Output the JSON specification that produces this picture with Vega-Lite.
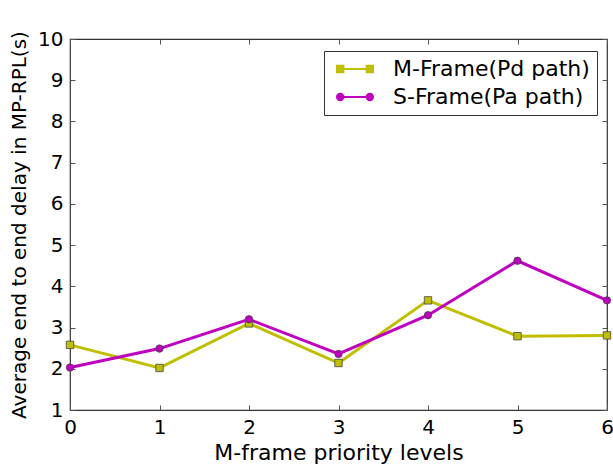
{
  "$schema": "https://vega.github.io/schema/vega-lite/v6.json",
  "width": 537,
  "height": 371,
  "autosize": "none",
  "padding": {"left": 70, "top": 39, "right": 6, "bottom": 60},
  "background": "white",
  "config": {
    "font": "DejaVu Sans",
    "view": {"stroke": "#333333", "strokeWidth": 1.2},
    "axis": {
      "grid": false,
      "domain": false,
      "tickColor": "#555555",
      "tickSize": -5,
      "tickWidth": 1,
      "labelFont": "DejaVu Sans",
      "labelFontSize": 20,
      "labelColor": "black",
      "titleFont": "DejaVu Sans",
      "titleFontSize": 20,
      "titleFontWeight": "normal",
      "titleColor": "black"
    }
  },
  "data": {
    "values": [
      {"level": 0, "delay": 2.58, "series": "M-Frame(Pd path)"},
      {"level": 1, "delay": 2.02, "series": "M-Frame(Pd path)"},
      {"level": 2, "delay": 3.1, "series": "M-Frame(Pd path)"},
      {"level": 3, "delay": 2.14, "series": "M-Frame(Pd path)"},
      {"level": 4, "delay": 3.66, "series": "M-Frame(Pd path)"},
      {"level": 5, "delay": 2.79, "series": "M-Frame(Pd path)"},
      {"level": 6, "delay": 2.81, "series": "M-Frame(Pd path)"},
      {"level": 0, "delay": 2.03, "series": "S-Frame(Pa path)"},
      {"level": 1, "delay": 2.49, "series": "S-Frame(Pa path)"},
      {"level": 2, "delay": 3.2, "series": "S-Frame(Pa path)"},
      {"level": 3, "delay": 2.36, "series": "S-Frame(Pa path)"},
      {"level": 4, "delay": 3.3, "series": "S-Frame(Pa path)"},
      {"level": 5, "delay": 4.62, "series": "S-Frame(Pa path)"},
      {"level": 6, "delay": 3.66, "series": "S-Frame(Pa path)"}
    ]
  },
  "layer": [
    {
      "mark": {"type": "line", "strokeWidth": 3, "clip": false},
      "encoding": {
        "x": {
          "field": "level",
          "type": "quantitative",
          "scale": {"domain": [0, 6], "nice": false, "zero": false},
          "axis": {"orient": "bottom", "values": [0, 1, 2, 3, 4, 5, 6], "format": "d", "title": "M-frame priority levels", "titleFontSize": 22, "labelPadding": 12, "titlePadding": 5, "labelFlush": false}
        },
        "y": {
          "field": "delay",
          "type": "quantitative",
          "scale": {"domain": [1, 10], "nice": false, "zero": false},
          "axis": {"orient": "left", "values": [1, 2, 3, 4, 5, 6, 7, 8, 9, 10], "format": "d", "title": "Average end to end delay in MP-RPL(s)", "labelPadding": 12, "titlePadding": 8, "labelFlush": false}
        },
        "color": {
          "field": "series",
          "type": "nominal",
          "scale": {"domain": ["M-Frame(Pd path)", "S-Frame(Pa path)"], "range": ["#bfbf00", "#bf00bf"]},
          "legend": {
            "title": null,
            "orient": "none",
            "legendX": 254,
            "legendY": 12,
            "direction": "vertical",
            "strokeColor": "#333333",
            "fillColor": "white",
            "padding": 7,
            "labelFont": "DejaVu Sans",
            "labelFontSize": 22,
            "labelColor": "black",
            "labelLimit": 400,
            "labelOffset": 27,
            "rowPadding": 6,
            "symbolSize": 400,
            "symbolOffset": 13,
            "symbolStrokeWidth": 2,
            "encode": {
              "symbols": {
                "update": {
                  "shape": {"signal": "datum.value === 'M-Frame(Pd path)' ? 'M-1.8,-0.32H-1.16V0.32H-1.8Z M1.16,-0.32H1.8V0.32H1.16Z M-1.16,0H1.16' : 'M-1.8,0A0.32,0.32 0 1,1 -1.16,0A0.32,0.32 0 1,1 -1.8,0Z M1.16,0A0.32,0.32 0 1,1 1.8,0A0.32,0.32 0 1,1 1.16,0Z M-1.16,0H1.16'"},
                  "fill": {"signal": "datum.value === 'M-Frame(Pd path)' ? '#bfbf00' : '#bf00bf'"},
                  "stroke": {"signal": "datum.value === 'M-Frame(Pd path)' ? '#bfbf00' : '#bf00bf'"},
                  "strokeWidth": {"value": 2},
                  "opacity": {"value": 1}
                }
              }
            }
          }
        }
      }
    },
    {
      "transform": [{"filter": "datum.series === 'M-Frame(Pd path)'"}],
      "mark": {"type": "point", "shape": "square", "filled": true, "size": 55, "color": "#bfbf00", "stroke": "#444444", "strokeWidth": 0.8, "opacity": 1, "clip": false},
      "encoding": {
        "x": {"field": "level", "type": "quantitative", "axis": null},
        "y": {"field": "delay", "type": "quantitative", "axis": null}
      }
    },
    {
      "transform": [{"filter": "datum.series === 'S-Frame(Pa path)'"}],
      "mark": {"type": "point", "shape": "circle", "filled": true, "size": 55, "color": "#bf00bf", "stroke": "#444444", "strokeWidth": 0.8, "opacity": 1, "clip": false},
      "encoding": {
        "x": {"field": "level", "type": "quantitative", "axis": null},
        "y": {"field": "delay", "type": "quantitative", "axis": null}
      }
    },
    {
      "mark": {"type": "line", "opacity": 0},
      "encoding": {
        "x": {"field": "level", "type": "quantitative", "axis": {"orient": "top", "values": [0, 1, 2, 3, 4, 5, 6], "labels": false, "title": null}},
        "y": {"field": "delay", "type": "quantitative", "axis": {"orient": "right", "values": [1, 2, 3, 4, 5, 6, 7, 8, 9, 10], "labels": false, "title": null}},
        "detail": {"field": "series", "type": "nominal"}
      }
    }
  ],
  "resolve": {"axis": {"x": "independent", "y": "independent"}}
}
